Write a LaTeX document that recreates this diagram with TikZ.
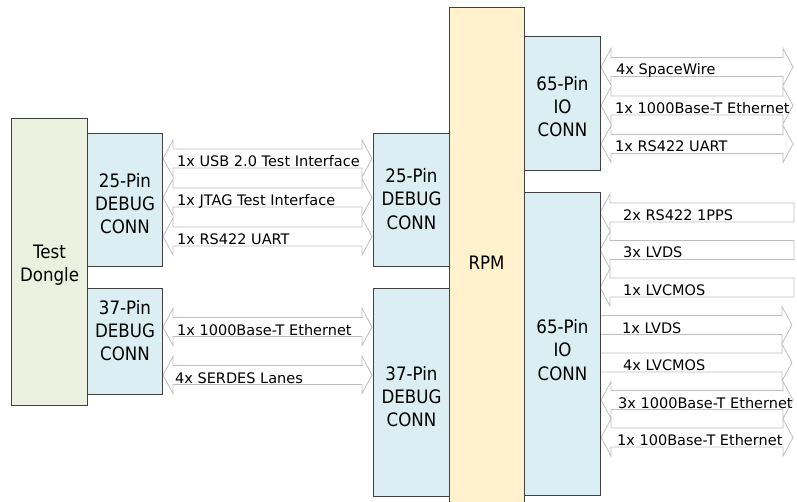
\documentclass[tikz,border=0pt]{standalone}
\usepackage{fontspec}
\setmainfont{DejaVu Sans}
\newfontfamily\boxfnt[FakeStretch=0.9]{DejaVu Sans}
\definecolor{dongleC}{HTML}{EBF1DE}
\definecolor{connC}{HTML}{DAEEF3}
\definecolor{rpmC}{HTML}{FFF2CC}
\definecolor{edgeC}{HTML}{404040}
\definecolor{arrC}{HTML}{BFBFBF}
\tikzset{
  blk/.style={draw=edgeC, line width=1pt, anchor=north west, inner sep=0pt},
  btxt/.style={inner sep=0pt, align=center, font=\boxfnt\fontsize{18.5}{23.3}\selectfont},
  barrow/.style={draw=arrC, fill=white, line width=0.8pt, line join=miter},
  lbl/.style={anchor=base west, inner sep=0pt, font=\fontsize{14.5}{16}\selectfont}
}
\newcommand\BlkDbl[3]{% xl, xr, yc
  \draw[barrow] (#1,#3) -- ({#1+10},{#3-18.5}) -- ({#1+10},{#3-9.5}) -- ({#2-10},{#3-9.5})
    -- ({#2-10},{#3-18.5}) -- (#2,#3) -- ({#2-10},{#3+18.5}) -- ({#2-10},{#3+9.5})
    -- ({#1+10},{#3+9.5}) -- ({#1+10},{#3+18.5}) -- cycle;}
\newcommand\BlkLft[3]{% tip, shaft end, yc
  \draw[barrow] (#1,#3) -- ({#1+10},{#3-18.5}) -- ({#1+10},{#3-9.5}) -- (#2,{#3-9.5})
    -- (#2,{#3+9.5}) -- ({#1+10},{#3+9.5}) -- ({#1+10},{#3+18.5}) -- cycle;}
\newcommand\BlkRgt[3]{% shaft start, tip, yc
  \draw[barrow] (#1,{#3-9.5}) -- ({#2-10},{#3-9.5}) -- ({#2-10},{#3-18.5}) -- (#2,#3)
    -- ({#2-10},{#3+18.5}) -- ({#2-10},{#3+9.5}) -- (#1,{#3+9.5}) -- cycle;}
\begin{document}
\begin{tikzpicture}[x=1pt,y=-1pt]
\clip (0,0) rectangle (797,502);
\fill[white] (0,0) rectangle (797,502);
% left debug arrows
\BlkDbl{163}{372}{158.5}
\BlkDbl{163}{372}{197.5}
\BlkDbl{163}{372}{236.5}
\node[lbl] (l1) at (177,166.5) {1x USB 2.0 Test Interface};
\node[lbl] (l2) at (177,205.5) {1x JTAG Test Interface};
\node[lbl] (l3) at (177,244.5) {1x RS422 UART};
\BlkDbl{163}{372}{327}
\BlkDbl{163}{372}{375}
\node[lbl] (l4) at (177,335) {1x 1000Base-T Ethernet};
\node[lbl] (l5) at (175,383) {4x SERDES Lanes};
% top right arrows
\BlkDbl{601}{793}{67}
\BlkDbl{601}{793}{105.5}
\BlkDbl{601}{793}{144}
\node[lbl] (r1) at (616,75) {4x SpaceWire};
\node[lbl] (r2) at (615,113.5) {1x 1000Base-T Ethernet};
\node[lbl] (r3) at (615,152) {1x RS422 UART};
% bottom right arrows
\BlkLft{600}{794}{212.5}
\BlkLft{600}{794}{250}
\BlkLft{600}{794}{287.5}
\BlkRgt{600}{792}{325}
\BlkRgt{600}{792}{362.5}
\BlkDbl{601}{793}{400}
\BlkDbl{601}{793}{437.5}
\node[lbl] (b1) at (623,220.5) {2x RS422 1PPS};
\node[lbl] (b2) at (623,258) {3x LVDS};
\node[lbl] (b3) at (623,295.5) {1x LVCMOS};
\node[lbl] (b4) at (622,333) {1x LVDS};
\node[lbl] (b5) at (623,370.5) {4x LVCMOS};
\node[lbl] (b6) at (618,408) {3x 1000Base-T Ethernet};
\node[lbl] (b7) at (617,445.5) {1x 100Base-T Ethernet};
% boxes
\node[blk, fill=dongleC, minimum width=76, minimum height=287] (dongle) at (11,118) {};
\node[blk, fill=connC, minimum width=75, minimum height=133] (dbgL25) at (87,133) {};
\node[blk, fill=connC, minimum width=75, minimum height=106] (dbgL37) at (87,288) {};
\node[blk, fill=connC, minimum width=76, minimum height=133] (dbgR25) at (373,133) {};
\node[blk, fill=connC, minimum width=76, minimum height=208] (dbgR37) at (373,288) {};
\node[blk, fill=rpmC, minimum width=75, minimum height=512] (rpm) at (449,7) {};
\node[blk, fill=connC, minimum width=76, minimum height=134] (io1) at (524,36) {};
\node[blk, fill=connC, minimum width=76, minimum height=303] (io2) at (524,192) {};
% box texts
\node[btxt, yshift=-3.5pt] (tdongle) at (dongle.center) {Test\\Dongle};
\node[btxt, yshift=-3.5pt] (tdbgL25) at (dbgL25.center) {25-Pin\\DEBUG\\CONN};
\node[btxt, yshift=11pt] (tdbgL37) at (dbgL37.center) {37-Pin\\DEBUG\\CONN};
\node[btxt, yshift=1pt] (tdbgR25) at (dbgR25.center) {25-Pin\\DEBUG\\CONN};
\node[btxt, yshift=-4pt] (tdbgR37) at (dbgR37.center) {37-Pin\\DEBUG\\CONN};
\node[btxt] (trpm) at (486.5,263) {RPM};
\node[btxt, yshift=-3pt] (tio1) at (io1.center) {65-Pin\\IO\\CONN};
\node[btxt, yshift=-6pt] (tio2) at (io2.center) {65-Pin\\IO\\CONN};
\end{tikzpicture}
\end{document}
